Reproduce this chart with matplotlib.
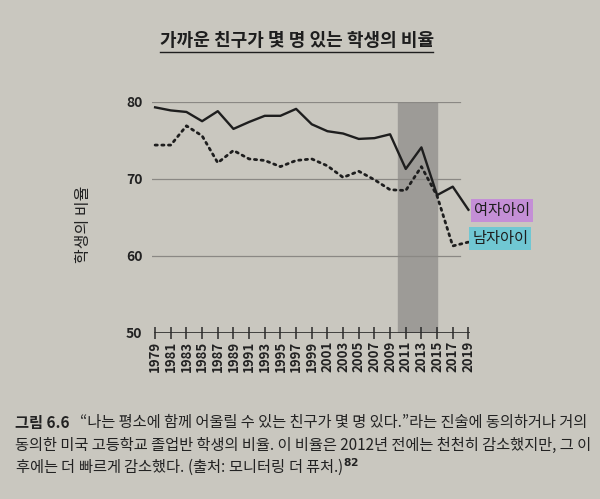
import numpy as np
import matplotlib.pyplot as plt

plt.rcParams['font.family'] = ['Noto Sans CJK KR', 'DejaVu Sans']

# 데이터 (그림에서 읽은 값, 2년 간격)
years = list(range(1979, 2020, 2))
girls = [79.3, 78.9, 78.7, 77.5, 78.8, 76.5, 77.4, 78.2, 78.2, 79.1, 77.1,
         76.2, 75.9, 75.2, 75.3, 75.8, 71.3, 74.1, 67.9, 69.0, 66.0]
boys = [74.4, 74.4, 76.9, 75.6, 72.1, 73.7, 72.6, 72.4, 71.6, 72.4, 72.6,
        71.7, 70.2, 71.0, 69.9, 68.6, 68.5, 71.6, 67.8, 61.3, 61.8]
shade_years = (2010, 2015)
yticks = [50, 60, 70, 80]
title = '가까운 친구가 몇 명 있는 학생의 비율'
ylabel = '학생의 비율'
names = ['여자아이', '남자아이']

bg = '#c9c7bf'
fig = plt.figure(figsize=(6, 4.99), dpi=100, facecolor=bg)
ax = fig.add_axes([0.2533, 0.3327, 0.53, 0.463])
ax.set_facecolor('none')

ax.axvspan(shade_years[0], shade_years[1], color='#9d9b97', zorder=0)
for v in yticks[1:]:
    ax.axhline(v, color='#8a8884', lw=0.9, xmax=0.97, zorder=1)
ax.axhline(50, color='#2a2a2a', lw=1.2, xmin=0.01, zorder=2)

ax.plot(years, girls, color='#1e1e1e', lw=1.7, zorder=3)
ax.plot(years, boys, color='#1e1e1e', lw=2.0, linestyle=(0, (0.8, 1.6)),
        dash_capstyle='round', zorder=3)

ax.set_xlim(1978.6, 2019.2)
ax.set_ylim(50, 80)
for s in ax.spines.values():
    s.set_visible(False)

ax.set_xticks(years)
ax.set_xticklabels([str(y) for y in years], rotation=90, fontsize=9.5,
                   fontweight='bold', color='#222222')
ax.tick_params(axis='x', direction='inout', length=9, width=1.1, color='#2a2a2a', pad=1)
ax.set_yticks(yticks)
ax.set_yticklabels([str(v) for v in yticks], fontsize=10, fontweight='bold', color='#222222')
ax.tick_params(axis='y', length=0, pad=7)

ax.set_ylabel(ylabel, fontsize=11.5, color='#222222')
ax.yaxis.set_label_coords(-0.19, 0.47)

# 라벨 상자
ax.text(2019.7, 65.9, names[0], fontsize=11, va='center', ha='left', color='#1e1e1e',
        bbox=dict(boxstyle='square,pad=0.2', fc='#c48fd6', ec='none'), clip_on=False)
ax.text(2019.5, 62.3, names[1], fontsize=11, va='center', ha='left', color='#1e1e1e',
        bbox=dict(boxstyle='square,pad=0.2', fc='#70c7d3', ec='none'), clip_on=False)

# 제목
fig.text(0.495, 0.918, title, fontsize=13, fontweight='bold', ha='center', va='center',
         color='#1e1e1e')
fig.add_artist(plt.Line2D([0.267, 0.722], [0.895, 0.895], color='#1e1e1e', lw=1.0))

# 캡션
fig.text(0.025, 0.153, '그림 6.6', fontsize=11, fontweight='bold', color='#222222', va='center')
fig.text(0.133, 0.153, '“나는 평소에 함께 어울릴 수 있는 친구가 몇 명 있다.”라는 진술에 동의하거나 거의',
         fontsize=11, color='#222222', va='center')
fig.text(0.025, 0.107, '동의한 미국 고등학교 졸업반 학생의 비율. 이 비율은 2012년 전에는 천천히 감소했지만, 그 이',
         fontsize=11, color='#222222', va='center')
fig.text(0.025, 0.063, '후에는 더 빠르게 감소했다. (출처: 모니터링 더 퓨처.)$^{\\mathbf{82}}$',
         fontsize=11, color='#222222', va='center')

fig.savefig('out.png', dpi=100, facecolor=bg)
